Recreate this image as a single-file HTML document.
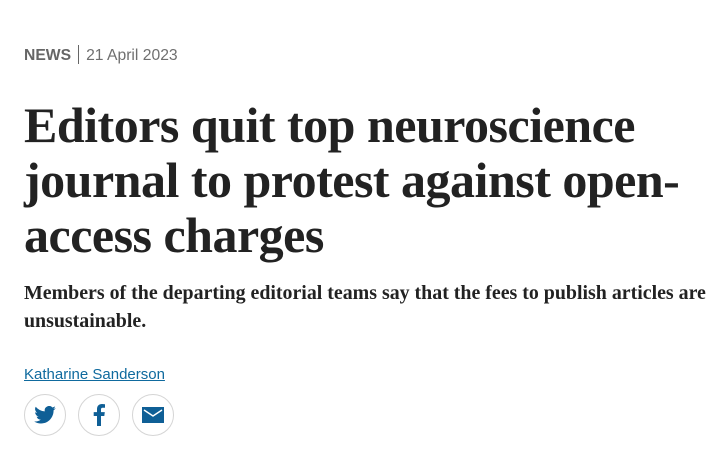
<!DOCTYPE html>
<html><head><meta charset="utf-8"><style>
body{margin:0;width:722px;height:454px;background:#fff;overflow:hidden;position:relative}
.meta{position:absolute;left:24px;top:45px;font-family:"Liberation Sans",sans-serif;font-size:15.7px;color:#6f6f6f;white-space:nowrap}
.meta b{color:#666}
.sep{display:inline-block;width:1px;height:19px;background:#666;vertical-align:-4px;margin:0 7px}
h1{position:absolute;left:24px;top:98px;margin:0;width:700px;font-family:"Liberation Serif",serif;font-weight:bold;font-size:50px;line-height:55px;color:#222;letter-spacing:-0.5px}
.sub{position:absolute;left:24px;top:279px;margin:0;width:700px;font-family:"Liberation Serif",serif;font-weight:bold;font-size:19.9px;line-height:28px;color:#222}
.author{position:absolute;left:24px;top:366px;font-family:"Liberation Sans",sans-serif;font-size:15px;color:#0f6a9e;text-decoration:underline}
.ic{position:absolute;top:394px;width:40px;height:40px;border:1px solid #d5d5d5;border-radius:50%;display:flex;align-items:center;justify-content:center}
</style></head><body>
<div class="meta"><b>NEWS</b><span class="sep"></span><span>21 April 2023</span></div>
<h1>Editors quit top neuroscience journal to protest against open-access charges</h1>
<p class="sub">Members of the departing editorial teams say that the fees to publish articles are unsustainable.</p>
<a class="author">Katharine Sanderson</a>
<div class="ic" style="left:24px"><svg width="22" height="18" viewBox="0 0 24 20"><path fill="#0f5f96" d="M24 2.4a9.8 9.8 0 0 1-2.8.8A4.9 4.9 0 0 0 23.3.4a9.8 9.8 0 0 1-3.1 1.2A4.9 4.9 0 0 0 11.8 6 14 14 0 0 1 1.7.9a4.9 4.9 0 0 0 1.5 6.6A4.9 4.9 0 0 1 1 6.9a4.9 4.9 0 0 0 3.9 4.8 4.9 4.9 0 0 1-2.2.1 4.9 4.9 0 0 0 4.600 3.4A9.9 9.9 0 0 1 0 17.2 14 14 0 0 0 7.5 19.4c9 0 14-7.5 14-14v-.6A10 10 0 0 0 24 2.4z"/></svg></div>
<div class="ic" style="left:78px"><svg width="12" height="22" viewBox="0 0 12 22"><path fill="#0f5f96" d="M8 22V12h3.3l.5-3.9H8V5.6c0-1.1.3-1.9 1.9-1.9H12V.2A27 27 0 0 0 9 0C6 0 4 1.8 4 5.2v2.9H.7V12H4v10z"/></svg></div>
<div class="ic" style="left:132px"><svg width="22" height="16" viewBox="0 0 22 16"><rect width="22" height="16" fill="#0f5f96"/><path d="M2 3l9 6 9-6" stroke="#fff" stroke-width="1.5" fill="none"/></svg></div>
</body></html>
